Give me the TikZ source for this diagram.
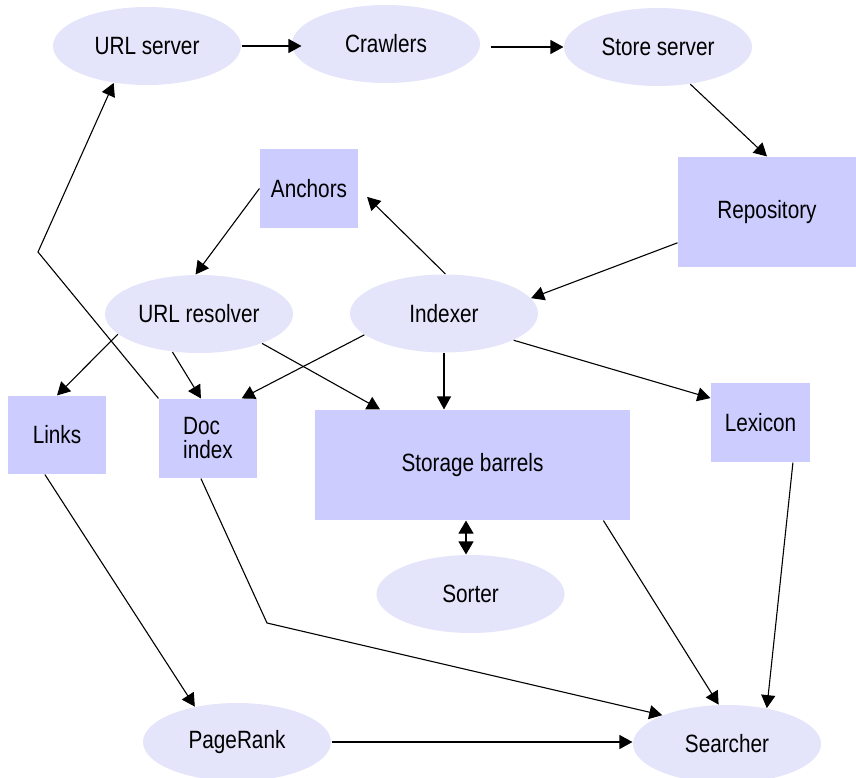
\documentclass[tikz,border=0pt]{standalone}
\usepackage{fontspec}
\setmainfont{Liberation Sans}[FakeStretch=0.83]
\usetikzlibrary{arrows.meta,shapes.geometric}
\definecolor{procfill}{HTML}{E4E4FB}
\definecolor{datafill}{HTML}{CCCCFF}
\begin{document}
\begin{tikzpicture}[x=1pt,y=-1pt,line width=1.1pt,
  font=\fontsize{25}{21}\selectfont,
  procnode/.style={ellipse,fill=procfill,minimum width=188pt,minimum height=78pt,inner sep=0pt},
  databox/.style={rectangle,fill=datafill,inner sep=0pt},
  arr/.style={-{Triangle[length=13pt,width=14pt]}}]
  \useasboundingbox (0,0) rectangle (856,778);
  % processes and data stores
  \node[procnode] (urlsrv) at (147,46) {URL server};
  \node[procnode] (crawl) at (386,44) {Crawlers};
  \node[procnode] (storesrv) at (658,47) {Store server};
  \node[databox,minimum width=178pt,minimum height=110pt] (repo) at (767,212) {Repository};
  \node[databox,minimum width=98pt,minimum height=79pt] (anch) at (309,188.5) {Anchors};
  \node[procnode] (urlres) at (199,314) {URL resolver};
  \node[procnode] (idx) at (444,313.5) {Indexer};
  \node[databox,minimum width=98pt,minimum height=78pt] (links) at (57,435) {Links};
  \node[databox,minimum width=98pt,minimum height=79pt,align=left,
        font=\fontsize{25}{24}\selectfont] (docidx) at (208,438.5) {Doc\\index};
  \node[databox,minimum width=315pt,minimum height=110pt] (barrels) at (472.5,465) {Storage barrels};
  \node[databox,minimum width=99pt,minimum height=79pt] (lex) at (760.5,422.5) {Lexicon};
  \node[procnode] (sorter) at (470.5,594) {Sorter};
  \node[procnode] (pagerank) at (237,742) {PageRank};
  \node[procnode] (search) at (727,744) {Searcher};
  \coordinate (bendA) at (38,252);
  \coordinate (bendB) at (267,623);

  % data flow
  \draw[arr,shorten >=-10pt] (urlsrv.east) -- (crawl.west |- urlsrv.east);
  \draw[arr,shorten <=10pt] (crawl.east |- storesrv.west) -- (storesrv.west);
  \draw[arr] (storesrv.-49) -- (repo.north);
  \draw[arr] (repo.199) -- (idx.10);
  \draw[arr,shorten >=12pt] (idx.88) -- (anch.east);
  \draw[arr] (anch.west) -- (urlres.95);
  \draw[arr] (urlres.194) -- (links.north);
  \draw[arr] (urlres.-125) -- (docidx.100);
  \draw[arr] (urlres.-25) -- (barrels.149);
  \draw[arr] (idx.195) -- (docidx.50);
  \draw[arr] (idx.south) -- (idx.south |- barrels.north);
  \draw[arr] (idx.-21) -- (lex.154);
  \draw[arr] (docidx.north west) -- (bendA) -- (urlsrv.228);
  \draw[arr] (links.-107) -- (pagerank.140);
  \draw[arr] (docidx.-100) -- (bendB) -- (search.156);
  \draw[arr] (pagerank.east) -- (search.west |- pagerank.east);
  \draw[arr] (barrels.-23) -- (search.102);
  \draw[arr] (lex.-51) -- (search.42);
  \draw[{Triangle[length=13pt,width=15pt]}-{Triangle[length=13pt,width=15pt]}] ([xshift=-4.5pt]sorter.north) -- ([xshift=-4.5pt]sorter.north |- barrels.south);
\end{tikzpicture}
\end{document}
